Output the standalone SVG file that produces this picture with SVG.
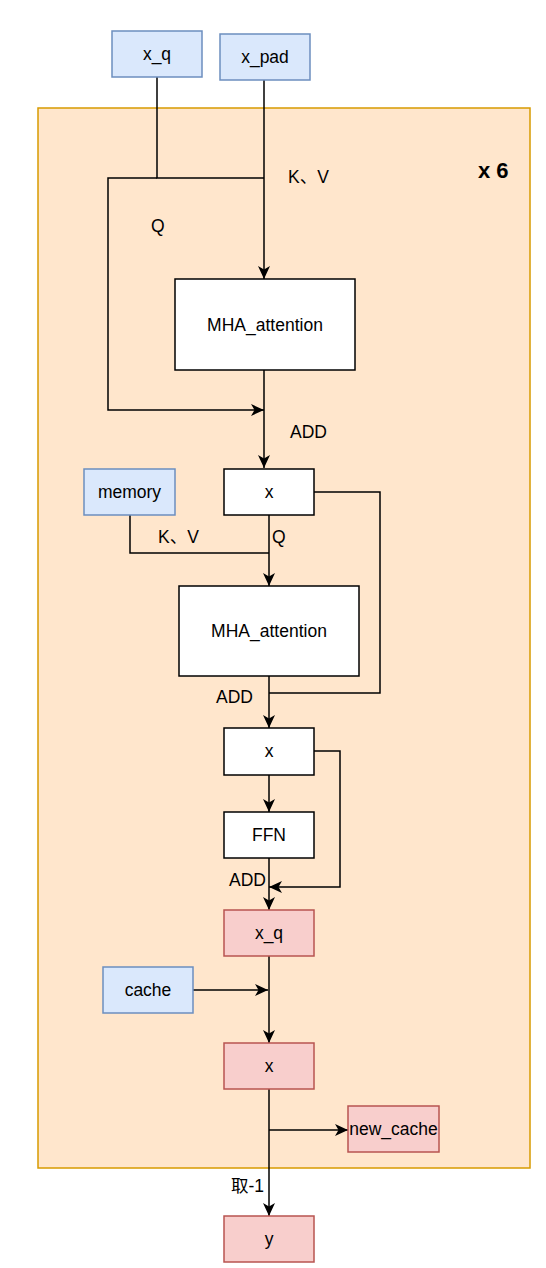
<svg xmlns="http://www.w3.org/2000/svg" width="546" height="1268" viewBox="0 0 546 1268">
<style>
text{font-family:"Liberation Sans","Noto Sans CJK SC",Arial,sans-serif;font-size:17.5px;fill:#000}
.c{text-anchor:middle}
.w{fill:#fff;stroke:#000;stroke-width:1.5}
.b{fill:#dae8fc;stroke:#6c8ebf;stroke-width:1.5}
.r{fill:#f8cecc;stroke:#b85450;stroke-width:1.5}
.e{fill:none;stroke:#000;stroke-width:1.5}
.a{marker-end:url(#arr)}
</style>
<defs>
<marker id="arr" markerUnits="userSpaceOnUse" markerWidth="14" markerHeight="13" refX="13" refY="6.5" orient="auto">
<path d="M0,0.5 L13,6.5 L0,12.5 L3.5,6.5 Z" fill="#000"/>
</marker>
</defs>
<g id="container">
<rect x="38" y="108" width="492" height="1060" fill="#ffe6cc" stroke="#d79b00" stroke-width="1.5"/>
<text x="478" y="178" style="font-weight:bold;font-size:22px">x 6</text>
</g>
<g id="connectors">
<path class="e a" d="M264,80 V279"/>
<path class="e" d="M157,77 V178 H264"/>
<path class="e a" d="M157,178 H108 V410 H264"/>
<path class="e a" d="M264,370 V468"/>
<path class="e" d="M130,515 V553 H269"/>
<path class="e a" d="M269,515 V586"/>
<path class="e" d="M314,492 H380 V693 H269"/>
<path class="e a" d="M269,676 V728"/>
<path class="e a" d="M269,775 V812"/>
<path class="e a" d="M314,751 H340 V887 H269"/>
<path class="e a" d="M269,858 V910"/>
<path class="e a" d="M269,956 V1043"/>
<path class="e a" d="M193,990 H268"/>
<path class="e a" d="M269,1089 V1216"/>
<path class="e a" d="M269,1130 H348"/>
<text x="288" y="183">K、V</text>
<text x="151" y="232">Q</text>
<text x="290" y="438">ADD</text>
<text x="158" y="543">K、V</text>
<text x="272" y="543">Q</text>
<text x="216" y="703">ADD</text>
<text x="229" y="886">ADD</text>
<text x="231" y="1192">取-1</text>
</g>
<g id="x_q"><rect class="b" x="112" y="31" width="90" height="46"/><text class="c" x="157" y="60">x_q</text></g>
<g id="x_pad"><rect class="b" x="220" y="34" width="90" height="46"/><text class="c" x="265" y="63">x_pad</text></g>
<g id="mha1"><rect class="w" x="175" y="279" width="180" height="91"/><text class="c" x="265" y="331">MHA_attention</text></g>
<g id="x1"><rect class="w" x="224" y="469" width="90" height="46"/><text class="c" x="269" y="498">x</text></g>
<g id="memory"><rect class="b" x="84" y="469" width="91" height="46"/><text class="c" x="129.5" y="498">memory</text></g>
<g id="mha2"><rect class="w" x="179" y="586" width="180" height="90"/><text class="c" x="269" y="637">MHA_attention</text></g>
<g id="x2"><rect class="w" x="224" y="728" width="90" height="47"/><text class="c" x="269" y="757">x</text></g>
<g id="ffn"><rect class="w" x="224" y="812" width="90" height="46"/><text class="c" x="269" y="841">FFN</text></g>
<g id="x_q2"><rect class="r" x="224" y="910" width="90" height="46"/><text class="c" x="269" y="939">x_q</text></g>
<g id="cache"><rect class="b" x="103" y="967" width="90" height="46"/><text class="c" x="148" y="996">cache</text></g>
<g id="x3"><rect class="r" x="224" y="1043" width="90" height="46"/><text class="c" x="269" y="1072">x</text></g>
<g id="new_cache"><rect class="r" x="348" y="1106" width="91" height="46"/><text class="c" x="393.5" y="1135">new_cache</text></g>
<g id="y"><rect class="r" x="224" y="1216" width="90" height="46"/><text class="c" x="269" y="1245">y</text></g>
</svg>
